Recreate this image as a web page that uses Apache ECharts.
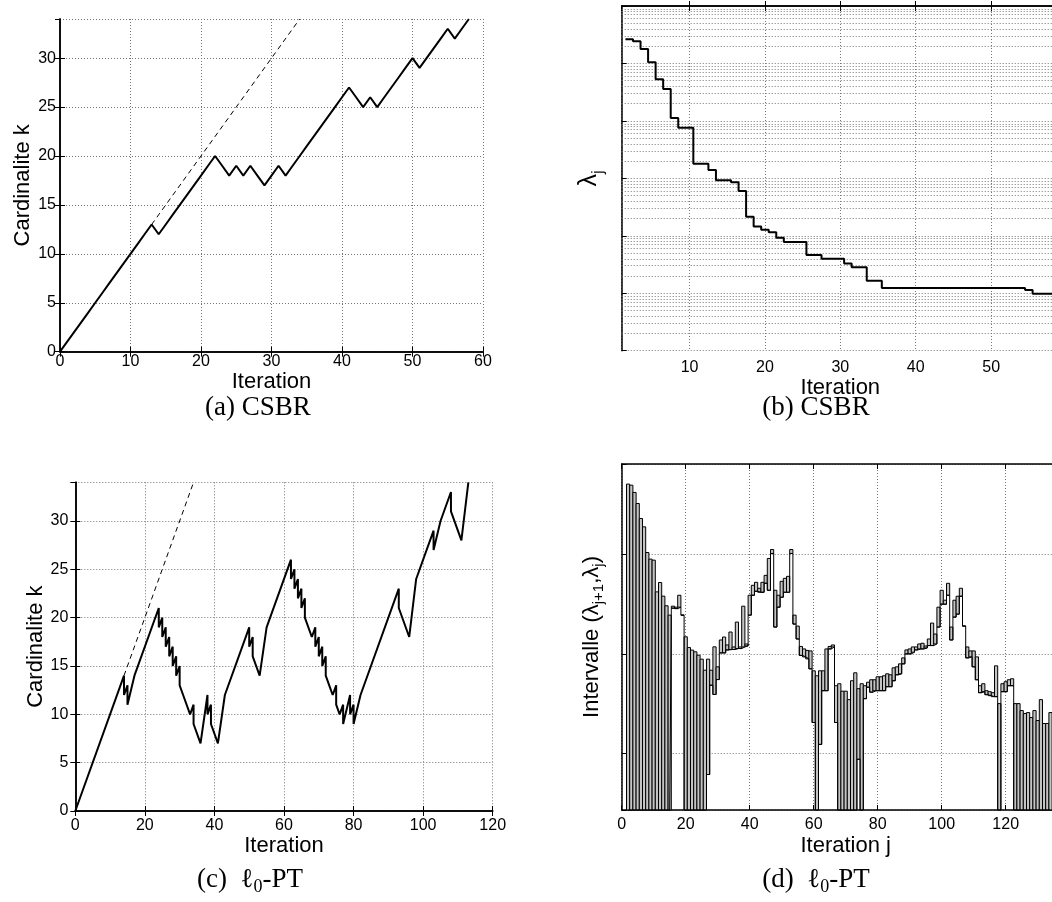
<!DOCTYPE html>
<html><head><meta charset="utf-8">
<script src="https://cdn.jsdelivr.net/npm/echarts@6/dist/echarts.min.js"></script>
<style>html,body{margin:0;padding:0;background:#fff}#c{width:1052px;height:902px}</style>
</head><body><div id="c"></div>
<script>
// ---------- (a) CSBR : cardinality per iteration (index = iteration) ----------
const aK = [0,1,2,3,4,5,6,7,8,9,10,11,12,13,12,13,14,15,16,17,18,19,20,19,18,19,18,19,18,17,18,19,18,19,20,21,22,23,24,25,26,27,26,25,26,25,26,27,28,29,30,29,30,31,32,33,32,33,34];
const aRefIter = [13, 34];
const aRefK = [13, 34];

// ---------- (b) CSBR : log10(lambda_j), j = 2..58 ----------
const bFirstJ = 2;
const bL = [-0.580,-0.615,-0.749,-0.981,-1.277,-1.445,-1.950,-2.118,-2.118,-2.745,-2.745,-2.855,-3.035,-3.035,-3.070,-3.221,-3.667,-3.836,-3.894,-3.940,-4.033,-4.108,-4.108,-4.108,-4.335,-4.335,-4.399,-4.399,-4.399,-4.480,-4.549,-4.549,-4.782,-4.782,
  -4.909,-4.909,-4.909,-4.909,-4.909,-4.909,-4.909,-4.909,-4.909,-4.909,-4.909,-4.909,-4.909,-4.909,-4.909,-4.909,-4.909,-4.909,-4.909,
  -4.944,-5.008,-5.008,-5.008];

// ---------- (c) l0-PT : cardinality path ----------
const cIter = [0,14,14,15,15,17,24,24,25,25,26,26,27,27,28,28,29,29,30,30,31,33,34,34,36,38,38,39,39,41,43,50,50,51,51,53,55,62,62,63,63,64,64,65,65,66,66,68,69,69,70,70,71,71,72,72,73,74,75,75,76,77,77,79,79,80,80,82,93,93,96,98,103,103,105,108,108,111,113];
const cK    = [0,14,12,13,11,14,21,19,20,18,19,17,18,16,17,15,16,14,15,13,12,10,11,9,7,12,10,11,9,7,12,19,17,18,16,14,19,26,24,25,23,24,22,23,21,22,20,18,19,17,18,16,17,15,16,14,13,12,13,11,10,11,9,12,10,11,9,12,23,21,18,24,29,27,30,33,31,28,34];
const cRefIter = [14, 34];
const cRefK = [14, 34];

// ---------- (d) l0-PT : intervals (lambda_{j+1}, lambda_j), log10 units, j = 2..134 ----------
const dFirstJ = 2;
const dHi = [3.708,3.697,3.624,3.513,3.362,3.278,3.020,2.953,2.943,2.624,2.718,2.581,2.484,2.39,
  2.48,2.47,2.59,2.39,
  2.172,2.064,2.038,2.021,1.987,1.947,1.836,
  1.947,1.836,2.071,1.870,2.14,2.17,2.09,2.22,2.07,2.32,2.07,2.48,2.10,2.59,2.69,2.72,2.66,2.72,2.79,2.96,3.05,
  2.64,2.59,2.73,2.76,2.78,3.05,2.39,2.28,2.075,2.05,2.035,2.03,1.83,1.78,1.83,1.83,2.05,2.075,2.09,1.68,
  1.70,1.625,1.625,1.54,1.73,1.81,1.65,1.70,
  1.68,1.715,1.74,1.74,1.77,1.77,1.78,1.80,1.79,1.86,1.87,1.90,1.96,2.04,2.05,2.07,2.07,2.10,2.107,2.08,
  2.15,2.31,2.20,2.47,2.64,2.54,2.71,2.27,2.54,2.58,2.66,2.28,
  2.07,2.03,2.03,1.97,1.68,1.70,1.63,1.62,1.61,1.88,
  1.50,1.70,1.72,1.74,1.75,
  1.50,1.50,1.43,1.40,1.41,1.36,1.43,1.33,1.54,1.30,1.30,1.41];
const dLo = [null,null,null,null,null,null,null,null,null,null,null,null,null,null,
  2.46,2.455,2.47,2.39,
  null,null,null,null,null,null,null,
  0.787,1.685,1.592,1.742,2.01,2.01,2.04,2.044,2.044,2.054,2.054,2.07,2.08,2.39,2.59,2.63,2.62,2.62,2.71,2.64,3.01,
  2.27,2.47,2.57,2.62,2.62,3.01,2.30,2.15,1.985,1.97,1.95,1.85,1.31,null,1.09,1.63,1.63,2.05,2.07,1.31,
  null,null,null,null,null,null,0.94,null,
  1.55,1.665,1.615,1.63,1.63,1.63,1.63,1.67,1.67,1.73,1.79,1.80,1.90,2.00,2.00,2.017,2.04,2.05,2.05,2.06,
  2.084,2.084,2.10,2.27,2.50,2.50,2.59,2.14,2.37,2.40,2.58,2.28,
  1.96,1.97,1.87,1.74,1.61,1.62,1.59,1.58,1.57,1.57,
  null,1.62,1.62,1.68,1.68,
  null,null,null,null,null,null,null,null,null,null,null,null];

// ---------- build ----------
const SANS = 'Liberation Sans, Arial, Helvetica, sans-serif';
const SERIF = 'Liberation Serif, DejaVu Serif, Times New Roman, serif';
const D_MIN = 0.43, D_MAX = 3.91;
const DOT = [1, 2];
const gridLine = {show: true, lineStyle: {type: DOT, color: '#777', width: 1}};
const axLine = {show: true, lineStyle: {color: '#000', width: 1.5}};
const tick = {show: true, inside: true, length: 5, lineStyle: {color: '#000', width: 1}};
const lab = (m, extra) => Object.assign({fontSize: 16, fontFamily: SANS, color: '#000', margin: m}, extra || {});
const nameStyle = {fontSize: 22, fontFamily: SANS, color: '#000'};

const aData = aK.map((k, i) => [i, k]);
const aRef = aRefIter.map((x, i) => [x, aRefK[i]]);
const bData = bL.map((v, i) => [bFirstJ + i - 0.5, v]);
bData.push([bFirstJ + bL.length - 0.5, bL[bL.length - 1]]);
const bMinor = [];
for (let d = -6; d < 0; d++) for (let m = 2; m <= 9; m++) bMinor.push({yAxis: d + Math.log10(m)});
const cData = cIter.map((x, i) => [x, cK[i]]);
const cRef = cRefIter.map((x, i) => [x, cRefK[i]]);
const dRows = dHi.map((h, i) => [dFirstJ + i, dLo[i] === null ? D_MIN : dLo[i], h]);
const dLoLine = dHi.map((h, i) => [dFirstJ + i, dLo[i] === null ? D_MIN : dLo[i]]);

// main token aligned to top of line, subscript token aligned to bottom -> lowered
const subRich = (family, big, small, lh) => ({
  m: {fontSize: big, lineHeight: lh, verticalAlign: 'top', fontFamily: family, color: '#000'},
  s: {fontSize: small, lineHeight: lh, verticalAlign: 'bottom', fontFamily: family, color: '#000'}
});
const capStyle = (txt) => ({text: txt, font: '27px ' + SERIF, fill: '#000', align: 'center', verticalAlign: 'middle', textAlign: 'center', textVerticalAlign: 'middle',
  rich: subRich(SERIF, 27, 18, 30)});

const option = {
  backgroundColor: '#fff',
  animation: false,
  grid: [
    {left: 60, top: 19, width: 423, height: 332.7, outerBoundsMode: 'none'},
    {left: 621.7, top: 6, width: 437.3, height: 344.7, outerBoundsMode: 'none'},
    {left: 75.3, top: 482.3, width: 417.4, height: 328.7, outerBoundsMode: 'none'},
    {left: 621.7, top: 464, width: 448, height: 346, outerBoundsMode: 'none'}
  ],
  xAxis: [
    {gridIndex: 0, type: 'value', min: 0, max: 60, interval: 10, name: 'Iteration', nameLocation: 'middle', nameGap: 17, nameTextStyle: nameStyle,
     axisLine: axLine, axisTick: tick, axisLabel: lab(2), splitLine: gridLine},
    {gridIndex: 0, type: 'value', position: 'top', min: 0, max: 60, interval: 10, axisLine: axLine, axisTick: tick, axisLabel: {show: false}, splitLine: {show: false}},
    {gridIndex: 1, type: 'value', min: 1, max: 59, splitNumber: 5, name: 'Iteration', nameLocation: 'middle', nameGap: 18, nameTextStyle: nameStyle,
     axisLine: axLine, axisTick: tick, axisLabel: lab(9, {showMinLabel: false, showMaxLabel: false}), splitLine: gridLine},
    {gridIndex: 1, type: 'value', position: 'top', min: 1, max: 59, splitNumber: 5, axisLine: axLine, axisTick: tick, axisLabel: {show: false}, splitLine: {show: false}},
    {gridIndex: 2, type: 'value', min: 0, max: 120, interval: 20, name: 'Iteration', nameLocation: 'middle', nameGap: 24, nameTextStyle: nameStyle,
     axisLine: axLine, axisTick: tick, axisLabel: lab(7), splitLine: gridLine},
    {gridIndex: 2, type: 'value', position: 'top', min: 0, max: 120, interval: 20, axisLine: axLine, axisTick: tick, axisLabel: {show: false}, splitLine: {show: false}},
    {gridIndex: 3, type: 'value', min: 0, max: 140, interval: 20, name: 'Iteration j', nameLocation: 'middle', nameGap: 25, nameTextStyle: nameStyle,
     axisLine: axLine, axisTick: tick, axisLabel: lab(7, {showMaxLabel: false}), splitLine: gridLine},
    {gridIndex: 3, type: 'value', position: 'top', min: 0, max: 140, interval: 20, axisLine: axLine, axisTick: tick, axisLabel: {show: false}, splitLine: {show: false}}
  ],
  yAxis: [
    {gridIndex: 0, type: 'value', min: 0, max: 34, interval: 5, name: 'Cardinalite k', nameLocation: 'middle', nameRotate: 90, nameGap: 23, nameTextStyle: nameStyle,
     axisLine: axLine, axisTick: tick, axisLabel: lab(4, {showMaxLabel: false}), splitLine: gridLine},
    {gridIndex: 0, type: 'value', position: 'right', min: 0, max: 34, interval: 5, axisLine: axLine, axisTick: tick, axisLabel: {show: false}, splitLine: {show: false}},
    {gridIndex: 1, type: 'value', min: -6, max: 0, interval: 1, name: '{m|λ}{s|j}', nameLocation: 'middle', nameRotate: 90, nameGap: 15,
     nameTextStyle: {fontSize: 25, fontFamily: SANS, color: '#000', rich: subRich(SANS, 25, 17, 30)},
     axisLine: axLine, axisTick: tick, axisLabel: {show: false}, splitLine: gridLine},
    {gridIndex: 2, type: 'value', min: 0, max: 34, interval: 5, name: 'Cardinalite k', nameLocation: 'middle', nameRotate: 90, nameGap: 26, nameTextStyle: nameStyle,
     axisLine: axLine, axisTick: tick, axisLabel: lab(7, {showMaxLabel: false}), splitLine: gridLine},
    {gridIndex: 2, type: 'value', position: 'right', min: 0, max: 34, interval: 5, axisLine: axLine, axisTick: tick, axisLabel: {show: false}, splitLine: {show: false}},
    {gridIndex: 3, type: 'value', min: D_MIN, max: D_MAX, splitNumber: 3, name: '{m|Intervalle (λ}{s|j+1}{m|,λ}{s|j}{m|)}', nameLocation: 'middle', nameRotate: 90, nameGap: 15,
     nameTextStyle: {fontSize: 22, fontFamily: SANS, color: '#000', rich: subRich(SANS, 22, 15, 26)},
     axisLine: axLine, axisTick: tick, axisLabel: {show: false}, splitLine: gridLine}
  ],
  series: [
    {type: 'line', xAxisIndex: 0, yAxisIndex: 0, data: aData, symbol: 'none', lineStyle: {color: '#000', width: 2}, z: 5},
    {type: 'line', xAxisIndex: 0, yAxisIndex: 0, data: aRef, symbol: 'none', lineStyle: {color: '#000', width: 1, type: [5, 4]}, z: 4},
    {type: 'line', xAxisIndex: 2, yAxisIndex: 2, data: bData, step: 'end', symbol: 'none', lineStyle: {color: '#000', width: 2}, z: 5,
     markLine: {silent: true, symbol: ['none', 'none'], label: {show: false}, lineStyle: {type: DOT, color: '#777', width: 1}, data: bMinor, z: 1}},
    {type: 'line', xAxisIndex: 4, yAxisIndex: 3, data: cData, symbol: 'none', lineStyle: {color: '#000', width: 2}, z: 5},
    {type: 'line', xAxisIndex: 4, yAxisIndex: 3, data: cRef, symbol: 'none', lineStyle: {color: '#000', width: 1, type: [5, 4]}, z: 4},
    {type: 'custom', xAxisIndex: 6, yAxisIndex: 5, data: dRows, encode: {x: 0, y: [1, 2]}, z: 3,
     renderItem: function (params, api) {
       const j = api.value(0), lo = api.value(1), hi = api.value(2);
       const p1 = api.coord([j - 0.5, hi]);
       const p2 = api.coord([j + 0.5, lo]);
       return {type: 'rect', shape: {x: p1[0], y: p1[1], width: p2[0] - p1[0], height: p2[1] - p1[1]},
               style: {fill: '#c4c4c4', stroke: '#000', lineWidth: 1}};
     }},
    {type: 'line', xAxisIndex: 6, yAxisIndex: 5, data: dLoLine, step: 'middle', symbol: 'none', lineStyle: {color: '#000', width: 1}, z: 4}
  ],
  graphic: [
    {type: 'text', x: 258, y: 408, style: {text: '(a) CSBR', font: '27px ' + SERIF, fill: '#000', align: 'center', verticalAlign: 'middle', textAlign: 'center', textVerticalAlign: 'middle'}},
    {type: 'text', x: 816, y: 408, style: {text: '(b) CSBR', font: '27px ' + SERIF, fill: '#000', align: 'center', verticalAlign: 'middle', textAlign: 'center', textVerticalAlign: 'middle'}},
    {type: 'text', x: 250, y: 881, style: capStyle('{m|(c)  ℓ}{s|0}{m|-PT}')},
    {type: 'text', x: 816, y: 881, style: capStyle('{m|(d)  ℓ}{s|0}{m|-PT}')}
  ]
};
const chart = echarts.init(document.getElementById('c'));
chart.setOption(option);
</script></body></html>
